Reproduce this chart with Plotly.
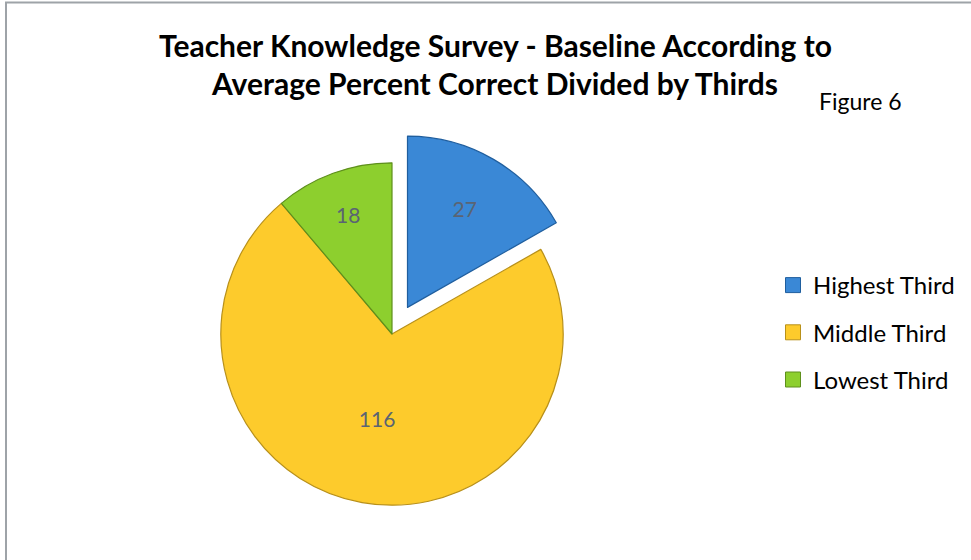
import plotly.graph_objects as go

labels = ["Highest Third", "Middle Third", "Lowest Third"]
values = [27, 116, 18]
colors = ["#3A88D6", "#FDCB2C", "#8DCF2E"]
edge_colors = ["#1F5E9E", "#B8901A", "#5E8F1C"]
pulls = [0.18, 0, 0]

fig = go.Figure()
fig.add_trace(go.Pie(
    labels=labels,
    values=values,
    sort=False,
    direction="clockwise",
    rotation=0,
    pull=pulls,
    marker=dict(colors=colors, line=dict(color=edge_colors, width=1.2)),
    textinfo="value",
    textposition="inside",
    insidetextorientation="horizontal",
    textfont=dict(family="Lato", size=21, color="#5A6473"),
    domain=dict(x=[190/971, 594/971], y=[1-536/560, 1-132/560]),
    hoverinfo="label+value",
    showlegend=False,
))

# legend entries (one per slice, same labels/colours as the pie)
for lab, col, edge in zip(labels, colors, edge_colors):
    fig.add_trace(go.Scatter(
        x=[None], y=[None], mode="markers", name=lab, legendgroup=lab,
        marker=dict(symbol="square", size=15, color=col, line=dict(color=edge, width=1)),
        showlegend=True, hoverinfo="skip",
    ))

fig.update_layout(
    width=971, height=560,
    margin=dict(l=0, r=0, t=0, b=0),
    paper_bgcolor="white",
    plot_bgcolor="rgba(0,0,0,0)",
    xaxis=dict(visible=False),
    yaxis=dict(visible=False),
    showlegend=True,
    legend=dict(
        x=773/971, y=1-263/560, xanchor="left", yanchor="top",
        font=dict(family="Lato", size=24, color="#000000"),
        bgcolor="rgba(0,0,0,0)",
        traceorder="grouped",
        tracegroupgap=13,
        itemclick=False, itemdoubleclick=False,
    ),
    annotations=[
        dict(text="<b>Teacher Knowledge Survey - Baseline According to</b>",
             x=495/971, y=1-45/560, xref="paper", yref="paper",
             xanchor="center", yanchor="middle", showarrow=False,
             font=dict(family="Lato", size=30, color="#000000")),
        dict(text="<b>Average Percent Correct Divided by Thirds</b>",
             x=494/971, y=1-83/560, xref="paper", yref="paper",
             xanchor="center", yanchor="middle", showarrow=False,
             font=dict(family="Lato", size=30, color="#000000")),
        dict(text="Figure 6",
             x=860/971, y=1-101/560, xref="paper", yref="paper",
             xanchor="center", yanchor="middle", showarrow=False,
             font=dict(family="Lato", size=23, color="#000000")),
    ],
    shapes=[
        dict(type="rect", xref="paper", yref="paper",
             x0=6/971, x1=1.05, y0=-0.05, y1=1-2.5/560,
             line=dict(color="#9EA3A8", width=2), fillcolor="rgba(0,0,0,0)"),
    ],
)

fig.write_html("out.html")
